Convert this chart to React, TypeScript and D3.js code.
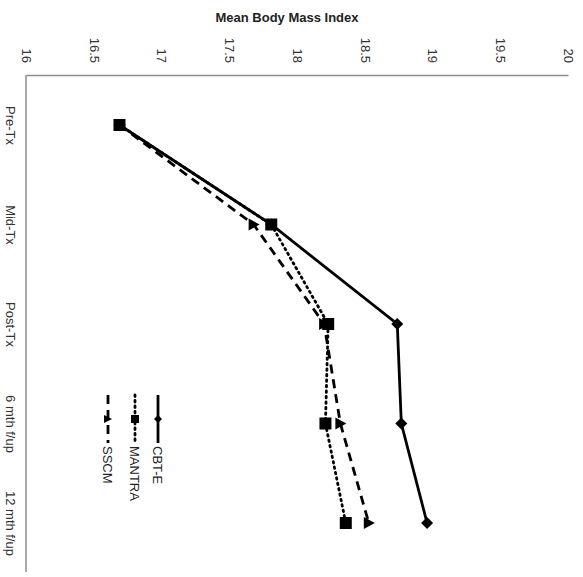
import React, { useRef, useEffect } from 'react';
import * as d3 from 'd3';

const categories = ['Pre-Tx', 'Mid-Tx', 'Post-Tx', '6 mth f/up', '12 mth f/up'];
const cbte = [16.69, 17.81, 18.74, 18.77, 18.96];
const mantra = [16.69, 17.81, 18.23, 18.21, 18.36];
const sscm = [16.69, 17.68, 18.2, 18.32, 18.53];
const bmiTicks = [16, 16.5, 17, 17.5, 18, 18.5, 19, 19.5, 20];

const series = [
  { name: 'CBT-E', values: cbte, dash: null, marker: 'diamond' },
  { name: 'MANTRA', values: mantra, dash: '1.5,4', marker: 'square' },
  { name: 'SSCM', values: sscm, dash: '9,6', marker: 'triangle' },
];

const W = 583;
const H = 577;

const App = () => {
  const ref = useRef<SVGSVGElement>(null);

  useEffect(() => {
    const svg = d3.select(ref.current);
    svg.selectAll('*').remove();

    const x = d3.scaleLinear().domain([16, 20]).range([26, 568]);
    const y = d3.scalePoint().domain(categories).range([125, 523]);

    const font = 'Liberation Sans, Arial, sans-serif';

    // title
    svg.append('text')
      .attr('x', 287).attr('y', 22)
      .attr('text-anchor', 'middle')
      .style('font-family', font).style('font-size', '13px').style('font-weight', 'bold')
      .attr('fill', '#222')
      .text('Mean Body Mass Index');

    // top axis (values)
    const xAxis = svg.append('g')
      .attr('transform', 'translate(0,75)')
      .call(d3.axisTop(x).tickValues(bmiTicks).tickSize(0).tickPadding(0).tickFormat(d => String(d)));
    xAxis.select('.domain').attr('stroke', '#8c8c8c').attr('stroke-width', 1.5);
    xAxis.selectAll('.tick text')
      .attr('transform', 'translate(0,-12) rotate(90)')
      .attr('text-anchor', 'end')
      .attr('dy', '0.35em')
      .attr('y', 0)
      .style('font-family', font).style('font-size', '13px').attr('fill', '#333');

    // left axis (categories)
    const yAxis = svg.append('g')
      .attr('transform', 'translate(26,0)')
      .call(d3.axisLeft(y).tickSize(0).tickPadding(0));
    yAxis.select('.domain').attr('d', 'M0,75V572').attr('stroke', '#8c8c8c').attr('stroke-width', 1.5);
    yAxis.selectAll('.tick text')
      .attr('transform', 'translate(-15,0) rotate(90)')
      .attr('text-anchor', 'middle')
      .attr('x', 0).attr('dy', '0.35em')
      .style('font-family', font).style('font-size', '13px').attr('fill', '#333');

    const line = d3.line<number>()
      .x(d => x(d))
      .y((d, i) => y(categories[i]) as number);

    const drawMarker = (g: any, kind: string, cx: number, cy: number) => {
      if (kind === 'diamond') {
        g.append('path').attr('d', `M${cx},${cy - 6}L${cx + 6},${cy}L${cx},${cy + 6}L${cx - 6},${cy}Z`).attr('fill', '#000');
      } else if (kind === 'square') {
        g.append('rect').attr('x', cx - 6).attr('y', cy - 6).attr('width', 12).attr('height', 12).attr('fill', '#000');
      } else {
        g.append('path').attr('d', `M${cx - 5},${cy - 6}L${cx + 6},${cy}L${cx - 5},${cy + 6}Z`).attr('fill', '#000');
      }
    };

    series.slice().reverse().forEach(s => {
      const g = svg.append('g');
      g.append('path')
        .attr('d', line(s.values))
        .attr('fill', 'none')
        .attr('stroke', '#000')
        .attr('stroke-width', 2.8)
        .attr('stroke-dasharray', s.dash)
        .attr('stroke-linecap', s.dash === '1.5,4' ? 'round' : 'butt');
      s.values.forEach((v, i) => drawMarker(g, s.marker, x(v), y(categories[i]) as number));
    });

    // legend
    const legX = [158, 135, 108];
    series.forEach((s, i) => {
      const g = svg.append('g');
      const lx = legX[i];
      g.append('line')
        .attr('x1', lx).attr('x2', lx).attr('y1', 395).attr('y2', 443)
        .attr('stroke', '#000').attr('stroke-width', 2.8)
        .attr('stroke-dasharray', s.dash)
        .attr('stroke-linecap', s.dash === '1.5,4' ? 'round' : 'butt');
      if (s.marker === 'diamond') {
        g.append('path').attr('d', `M${lx},${419 - 4}L${lx + 4},419L${lx},${419 + 4}L${lx - 4},419Z`).attr('fill', '#000');
      } else if (s.marker === 'square') {
        g.append('rect').attr('x', lx - 4).attr('y', 415).attr('width', 8).attr('height', 8).attr('fill', '#000');
      } else {
        g.append('path').attr('d', `M${lx - 4},${415}L${lx + 4},${419}L${lx - 4},${423}Z`).attr('fill', '#000');
      }
      g.append('text')
        .attr('transform', `translate(${lx},446) rotate(90)`)
        .attr('dy', '0.35em')
        .style('font-family', font).style('font-size', '13px').attr('fill', '#222')
        .text(s.name);
    });
  }, []);

  return (
    <svg ref={ref} width={W} height={H}
      style={{ position: 'absolute', left: 0, top: 0, background: '#fff' }} />
  );
};

export default App;
